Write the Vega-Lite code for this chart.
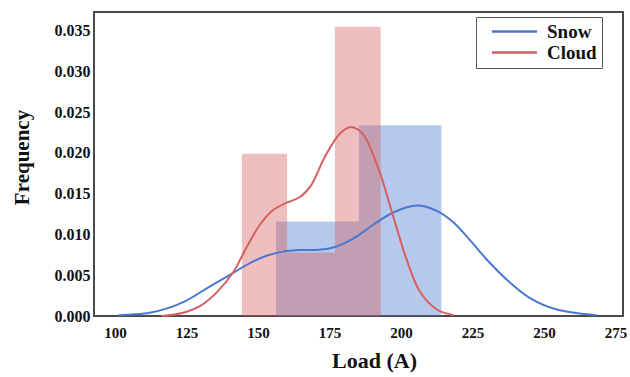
{
  "$schema": "https://vega.github.io/schema/vega-lite/v6.json",
  "width": 529,
  "height": 304,
  "autosize": {"type": "none"},
  "padding": {"left": 94, "top": 12, "right": 7, "bottom": 61},
  "background": "white",
  "config": {
    "view": {"stroke": "#4a4a4a", "strokeWidth": 2},
    "font": "Liberation Serif"
  },
  "datasets": {
    "bars": [
      {"series": "Snow", "x0": 156.3, "x1": 185.3, "density": 0.0116},
      {"series": "Snow", "x0": 185.3, "x1": 214.1, "density": 0.0234},
      {"series": "Cloud", "x0": 144.4, "x1": 160.2, "density": 0.0199},
      {"series": "Cloud", "x0": 160.2, "x1": 176.9, "density": 0.0078},
      {"series": "Cloud", "x0": 176.9, "x1": 192.9, "density": 0.0355}
    ],
    "kde": [
      {"series": "Snow", "load": 101.2, "density": 0.0001},
      {"series": "Snow", "load": 107.0, "density": 0.0002},
      {"series": "Snow", "load": 112.2, "density": 0.0004},
      {"series": "Snow", "load": 118.0, "density": 0.0009},
      {"series": "Snow", "load": 123.9, "density": 0.0017},
      {"series": "Snow", "load": 128.0, "density": 0.0025},
      {"series": "Snow", "load": 132.1, "density": 0.0034},
      {"series": "Snow", "load": 137.0, "density": 0.0044},
      {"series": "Snow", "load": 141.4, "density": 0.0053},
      {"series": "Snow", "load": 147.2, "density": 0.0065},
      {"series": "Snow", "load": 153.0, "density": 0.0074},
      {"series": "Snow", "load": 158.8, "density": 0.0079},
      {"series": "Snow", "load": 164.7, "density": 0.0081},
      {"series": "Snow", "load": 170.0, "density": 0.0081},
      {"series": "Snow", "load": 176.3, "density": 0.0084},
      {"series": "Snow", "load": 183.3, "density": 0.0095},
      {"series": "Snow", "load": 190.3, "density": 0.0112},
      {"series": "Snow", "load": 197.3, "density": 0.0127},
      {"series": "Snow", "load": 205.5, "density": 0.01355},
      {"series": "Snow", "load": 212.5, "density": 0.0129},
      {"series": "Snow", "load": 218.3, "density": 0.0115},
      {"series": "Snow", "load": 224.1, "density": 0.0093},
      {"series": "Snow", "load": 231.1, "density": 0.0065},
      {"series": "Snow", "load": 238.1, "density": 0.0041},
      {"series": "Snow", "load": 245.1, "density": 0.0022},
      {"series": "Snow", "load": 254.4, "density": 0.0008},
      {"series": "Snow", "load": 268.4, "density": 0.0001},
      {"series": "Cloud", "load": 116.3, "density": 0.0000},
      {"series": "Cloud", "load": 123.9, "density": 0.0004},
      {"series": "Cloud", "load": 129.7, "density": 0.0012},
      {"series": "Cloud", "load": 135.6, "density": 0.0029},
      {"series": "Cloud", "load": 141.4, "density": 0.0054},
      {"series": "Cloud", "load": 146.0, "density": 0.0084},
      {"series": "Cloud", "load": 150.7, "density": 0.0112},
      {"series": "Cloud", "load": 155.3, "density": 0.0130},
      {"series": "Cloud", "load": 160.0, "density": 0.0139},
      {"series": "Cloud", "load": 164.7, "density": 0.0146},
      {"series": "Cloud", "load": 168.5, "density": 0.0160},
      {"series": "Cloud", "load": 173.5, "density": 0.0196},
      {"series": "Cloud", "load": 178.7, "density": 0.0224},
      {"series": "Cloud", "load": 182.5, "density": 0.0232},
      {"series": "Cloud", "load": 186.5, "density": 0.0224},
      {"series": "Cloud", "load": 192.0, "density": 0.0182},
      {"series": "Cloud", "load": 197.3, "density": 0.0122},
      {"series": "Cloud", "load": 202.0, "density": 0.0069},
      {"series": "Cloud", "load": 206.6, "density": 0.0030},
      {"series": "Cloud", "load": 212.5, "density": 0.0008},
      {"series": "Cloud", "load": 218.3, "density": 0.0001}
    ]
  },
  "layer": [
    {
      "data": {"name": "bars"},
      "transform": [{"filter": "datum.series === 'Snow'"}],
      "mark": {"type": "rect", "opacity": 0.4, "fill": "#4878d0"},
      "encoding": {
        "x": {
          "field": "x0", "type": "quantitative",
          "scale": {"domain": [92.7, 277.6], "nice": false, "zero": false},
          "axis": {
            "values": [100, 125, 150, 175, 200, 225, 250, 275],
            "domain": false, "ticks": false, "grid": false,
            "labelFont": "Liberation Serif", "labelFontWeight": "bold", "labelFontSize": 15,
            "labelColor": "#111", "labelPadding": 9, "labelFlush": false,
            "title": "Load (A)", "titleFont": "Liberation Serif", "titleFontWeight": "bold",
            "titleFontSize": 22, "titleColor": "#111",
            "titleX": 280, "titleY": 51, "titleBaseline": "alphabetic", "titleAlign": "center"
          }
        },
        "x2": {"field": "x1"},
        "y": {
          "field": "density", "type": "quantitative",
          "scale": {"domain": [0, 0.0373], "nice": false},
          "axis": {
            "values": [0, 0.005, 0.01, 0.015, 0.02, 0.025, 0.03, 0.035],
            "format": ".3f",
            "domain": false, "ticks": false, "grid": false,
            "labelFont": "Liberation Serif", "labelFontWeight": "bold", "labelFontSize": 16,
            "labelColor": "#111", "labelPadding": 4, "labelFlush": false,
            "title": "Frequency", "titleFont": "Liberation Serif", "titleFontWeight": "bold",
            "titleFontSize": 21, "titleColor": "#111",
            "titleX": -66, "titleY": 145, "titleBaseline": "alphabetic", "titleAlign": "center", "titleAngle": 270
          }
        },
        "y2": {"datum": 0}
      }
    },
    {
      "data": {"name": "bars"},
      "transform": [{"filter": "datum.series === 'Cloud'"}],
      "mark": {"type": "rect", "opacity": 0.4, "fill": "#d65f5f"},
      "encoding": {
        "x": {"field": "x0", "type": "quantitative"},
        "x2": {"field": "x1"},
        "y": {"field": "density", "type": "quantitative"},
        "y2": {"datum": 0}
      }
    },
    {
      "data": {"name": "kde"},
      "mark": {"type": "line", "strokeWidth": 2, "interpolate": "catmull-rom"},
      "encoding": {
        "x": {"field": "load", "type": "quantitative"},
        "y": {"field": "density", "type": "quantitative"},
        "color": {
          "field": "series", "type": "nominal",
          "scale": {"domain": ["Snow", "Cloud"], "range": ["#4878d0", "#d65f5f"]},
          "legend": {
            "title": null,
            "orient": "none", "legendX": 382, "legendY": 5,
            "symbolType": "M -3 0 L 3 0", "symbolSize": 225, "symbolStrokeWidth": 2.5,
            "symbolFillColor": "transparent",
            "symbolOffset": 24,
            "labelFont": "Liberation Serif", "labelFontWeight": "bold", "labelFontSize": 19,
            "labelColor": "#111", "labelOffset": 23,
            "padding": 5, "rowPadding": 1,
            "strokeColor": "#555", "fillColor": "white"
          }
        }
      }
    }
  ]
}
